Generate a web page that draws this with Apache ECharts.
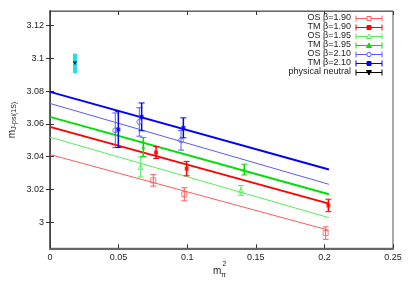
<!DOCTYPE html>
<html><head><meta charset="utf-8">
<script src="https://cdn.jsdelivr.net/npm/echarts@6/dist/echarts.min.js"></script>
<style>html,body{margin:0;padding:0;background:#fff}#c{width:409px;height:287px}</style>
</head><body><div id="c"></div>
<script>
// [x, y, err]
const os190 = [[0.0753,3.0255,0.0035],[0.0979,3.0170,0.0040],[0.2009,2.9933,0.0038]];
const tm190 = [[0.0773,3.0425,0.0036],[0.0996,3.0327,0.0044],[0.2029,3.0102,0.0038]];
const os195 = [[0.0661,3.0337,0.0061],[0.1392,3.0194,0.0030]];
const tm195 = [[0.0680,3.0459,0.0058],[0.1416,3.0321,0.0033]];
const os210 = [[0.0476,3.0561,0.0106],[0.0651,3.0612,0.0087],[0.0955,3.0500,0.0060]];
const tm210 = [[0.0498,3.0566,0.0110],[0.0668,3.0643,0.0085],[0.0972,3.0576,0.0061]];
const phys  = [[0.0182,3.0970,0.0060]];
// fit lines endpoints
const fitOS190 = [[0,3.0413],[0.2033,2.9950]];
const fitTM190 = [[0,3.0582],[0.2033,3.0113]];
const fitOS195 = [[0,3.0519],[0.2033,3.0027]];
const fitTM195 = [[0,3.0643],[0.2033,3.0170]];
const fitOS210 = [[0,3.0725],[0.2033,3.0231]];
const fitTM210 = [[0,3.0796],[0.2033,3.0321]];
const xTicks = [0,0.05,0.1,0.15,0.2,0.25];
const yTicks = [3,3.02,3.04,3.06,3.08,3.1,3.12];
const legendNames = ['OS β=1.90','TM β=1.90','OS β=1.95','TM β=1.95','OS β=2.10','TM β=2.10','physical neutral'];

const C = {
  os190:'#ff5a5a', tm190:'#ff0000', os195:'#55ee55', tm195:'#00e000',
  os210:'#5a5aff', tm210:'#0000ff', phys:'#000000', physErr:'#22e0e0'
};
const font = 'Liberation Sans, Arial, sans-serif';
const chart = echarts.init(document.getElementById('c'));

function errSeries(data, color, width, cap){
  return {type:'custom', data, z:3, silent:true,
    renderItem(params, api){
      const x=api.value(0), y=api.value(1), e=api.value(2);
      const t=api.coord([x,y+e]), b=api.coord([x,y-e]);
      const st={stroke:color, lineWidth:width};
      const ch=[{type:'line',shape:{x1:t[0],y1:t[1],x2:b[0],y2:b[1]},style:st}];
      if(cap>0){
        ch.push({type:'line',shape:{x1:t[0]-cap,y1:t[1],x2:t[0]+cap,y2:t[1]},style:{stroke:color,lineWidth:1}});
        ch.push({type:'line',shape:{x1:b[0]-cap,y1:b[1],x2:b[0]+cap,y2:b[1]},style:{stroke:color,lineWidth:1}});
      }
      return {type:'group',children:ch};
    }};
}
function pts(data, color, symbol, size, open, rot){
  return {type:'scatter', data:data.map(d=>[d[0],d[1]]), symbol, symbolSize:size, symbolRotate:rot||0, z:4, silent:true,
    itemStyle: open ? {color:'rgba(0,0,0,0)', borderColor:color, borderWidth:1} : {color:color}};
}
function fit(data, color, w){
  return {type:'line', data, showSymbol:false, z:2, silent:true, lineStyle:{color, width:w}};
}
const fmt = v => String(+(+v).toFixed(2));

const series = [
  fit(fitOS190,C.os190,1), fit(fitTM190,C.tm190,2),
  fit(fitOS195,C.os195,1), fit(fitTM195,C.tm195,2),
  fit(fitOS210,C.os210,1), fit(fitTM210,C.tm210,2),
  errSeries(os190,C.os190,1,3), pts(os190,C.os190,'rect',5,true),
  errSeries(tm190,C.tm190,1.5,3), pts(tm190,C.tm190,'rect',4,false),
  errSeries(os195,C.os195,1,3), pts(os195,C.os195,'triangle',5,true),
  errSeries(tm195,C.tm195,1.5,3), pts(tm195,C.tm195,'triangle',4,false),
  errSeries(os210,C.os210,1,3), pts(os210,C.os210,'circle',5,true),
  errSeries(tm210,C.tm210,1.5,3), pts(tm210,C.tm210,'rect',4,false),
  errSeries(phys,C.physErr,4,0), pts(phys,C.phys,'triangle',4,false,180)
];

// legend drawn as graphic
const legendStyles = [
  [C.os190,'rect',true],[C.tm190,'rect',false],[C.os195,'triangle',true],[C.tm195,'triangle',false],
  [C.os210,'circle',true],[C.tm210,'rect',false],[C.phys,'down',false]
];
const graphic = [];
legendNames.forEach((n,i)=>{
  const y = 18.5 + 9*i;
  const [col, sym, open] = legendStyles[i];
  graphic.push({type:'text', right:409-351, top:y-5.5, style:{text:n, font:'9px '+font, fill:'#222', textAlign:'right'}});
  graphic.push({type:'line', shape:{x1:356,y1:y,x2:382,y2:y}, style:{stroke:col,lineWidth:1}});
  graphic.push({type:'line', shape:{x1:356,y1:y-3,x2:356,y2:y+3}, style:{stroke:col,lineWidth:1}});
  graphic.push({type:'line', shape:{x1:382,y1:y-3,x2:382,y2:y+3}, style:{stroke:col,lineWidth:1}});
  const st = open ? {fill:'#fff',stroke:col,lineWidth:1} : {fill:col,stroke:col,lineWidth:1};
  if(sym==='rect') graphic.push({type:'rect', shape:{x:367,y:y-2,width:4,height:4}, style:st});
  else if(sym==='circle') graphic.push({type:'circle', shape:{cx:369,cy:y,r:2.2}, style:st});
  else if(sym==='triangle') graphic.push({type:'polygon', shape:{points:[[369,y-2.5],[371.5,y+2],[366.5,y+2]]}, style:st});
  else graphic.push({type:'polygon', shape:{points:[[369,y+2.5],[371.5,y-2],[366.5,y-2]]}, style:st});
});
// axis titles
graphic.push({type:'text', x:12, y:120, rotation:Math.PI/2, style:{
  text:'{m|m}{s|J-psi(1S)}', textAlign:'center', textVerticalAlign:'middle',
  rich:{m:{font:'10px '+font, fill:'#222'}, s:{font:'7px '+font, fill:'#222', padding:[5,0,0,0]}}}});
graphic.push({type:'text', x:213, y:266, style:{text:'m', font:'10px '+font, fill:'#222'}});
graphic.push({type:'text', x:221, y:272, style:{text:'π', font:'7px '+font, fill:'#222'}});
graphic.push({type:'text', x:222.5, y:261, style:{text:'2', font:'7px '+font, fill:'#222'}});

const axisCommon = {
  axisTick:{inside:true, length:4, lineStyle:{color:'#333'}},
  splitLine:{show:false}
};
chart.setOption({
  animation:false,
  grid:{left:50, right:16, top:11, bottom:38.7, show:true, borderColor:'#555', borderWidth:1},
  xAxis:[
    Object.assign({type:'value', min:0, max:0.25, interval:0.05, position:'bottom',
      axisLine:{lineStyle:{color:'#666', width:2}},
      axisLabel:{formatter:fmt, color:'#222', fontSize:9, fontFamily:font, margin:5}}, axisCommon),
    Object.assign({type:'value', min:0, max:0.25, interval:0.05, position:'top',
      axisLine:{lineStyle:{color:'#666', width:1}}, axisLabel:{show:false}}, axisCommon)
  ],
  yAxis:[
    Object.assign({type:'value', min:2.984, max:3.129, position:'left',
      axisLine:{show:true, lineStyle:{color:'#666', width:2}},
      axisLabel:{customValues:yTicks, formatter:fmt, color:'#222', fontSize:9, fontFamily:font, margin:6}},
      axisCommon, {axisTick:{inside:true, length:4, customValues:yTicks, lineStyle:{color:'#333'}}}),
    Object.assign({type:'value', min:2.984, max:3.129, position:'right',
      axisLine:{show:true, lineStyle:{color:'#444', width:1}}, axisLabel:{show:false}},
      axisCommon, {axisTick:{inside:true, length:4, customValues:yTicks, lineStyle:{color:'#333'}}})
  ],
  series, graphic
});
</script></body></html>
